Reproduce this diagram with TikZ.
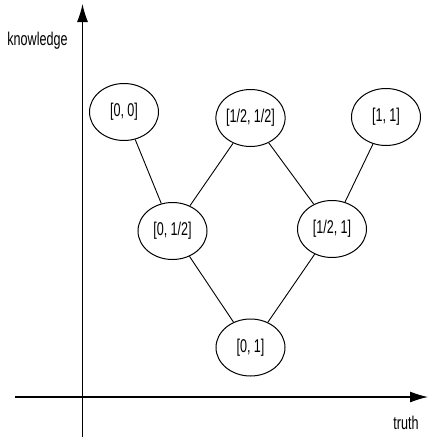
\documentclass[tikz,border=0pt]{standalone}
\usepackage{fontspec}
\setmainfont{Liberation Sans}[FakeStretch=0.68]
\usetikzlibrary{shapes.geometric,arrows.meta}
\begin{document}
\begin{tikzpicture}[
  x=1pt, y=-1pt,
  val/.style={ellipse, draw, line width=1pt, minimum width=69pt, minimum height=57pt,
              inner sep=0pt, font=\fontsize{18.5}{21}\selectfont},
  conn/.style={line width=0.9pt},
  axis/.style={line width=1.1pt, -{Latex[length=18pt,width=11pt]}},
  lbl/.style={font=\fontsize{18.5}{21}\selectfont}
]
\useasboundingbox (0,0) rectangle (428,440);

% Axes
\coordinate (xs) at (15,397);
\coordinate (xe) at (428,397);
\coordinate (ys) at (82.5,437);
\coordinate (ye) at (82.5,4);
\draw[axis] (xs) -- (xe);
\draw[axis] (ys) -- (ye);
\node[lbl] (kn) at (37.5,41) {knowledge};
\node[lbl] (tr) at (406,423) {truth};

% Top row
\node[val] (n00) at (124,112)   {[0, 0]};
\node[val] (nhh) at (250.5,118) {[1/2, 1/2]};
\node[val] (n11) at (386,117)   {[1, 1]};

% Middle row
\node[val] (n0h) at (172.5,231) {[0, 1/2]};
\node[val] (nh1) at (332,229)   {[1/2, 1]};

% Bottom
\node[val] (n01) at (250.5,347.5) {[0, 1]};

% Order lines
\draw[conn] (n00) -- (n0h);
\draw[conn] (nhh) -- (n0h);
\draw[conn] (nhh) -- (nh1);
\draw[conn] (n11) -- (nh1);
\draw[conn] (n0h) -- (n01);
\draw[conn] (nh1) -- (n01);
\end{tikzpicture}
\end{document}
